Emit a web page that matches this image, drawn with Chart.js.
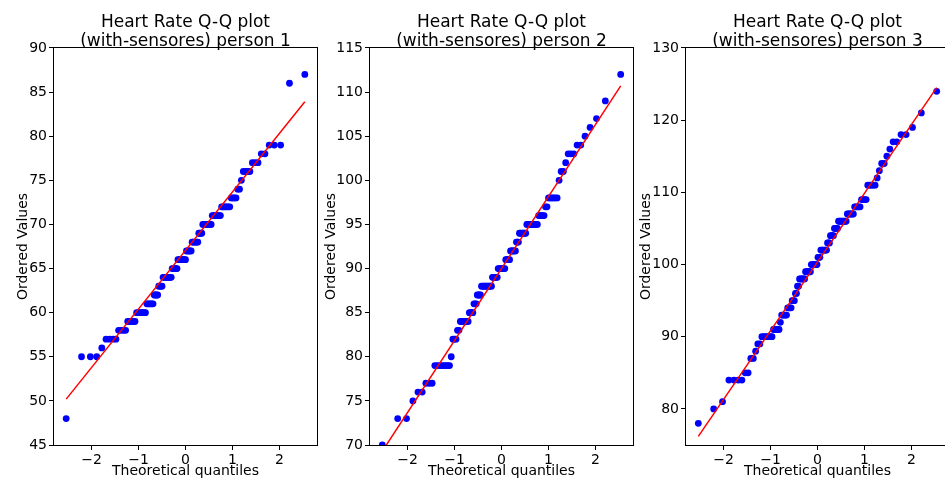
<!DOCTYPE html>
<html>
<head>
<meta charset="utf-8">
<script src="https://cdn.jsdelivr.net/npm/chart.js@4.4.1/dist/chart.umd.min.js"></script>
<style>
html,body{margin:0;padding:0;background:#fff;width:945px;height:480px;overflow:hidden;position:relative}
canvas{position:absolute;top:0}
</style>
</head>
<body>
<canvas id="c1" width="321" height="480" style="left:0px"></canvas>
<canvas id="c2" width="321" height="480" style="left:316px"></canvas>
<canvas id="c3" width="321" height="480" style="left:632px"></canvas>
<script>
// ---- Data ----
// Ordered (sorted) heart-rate values, stored as distinct value + how many times it occurs
const p1Values = [48,55,56,57,58,59,60,61,62,63,64,65,66,67,68,69,70,71,72,73,74,75,76,77,78,79,86,87];
const p1Counts = [ 1, 3, 1, 4, 4, 5, 7, 6, 4, 4, 9, 6, 9, 6, 7, 4, 9, 8, 7, 4, 2, 1, 4, 3, 2, 3, 1, 1];

const p2Values = [70,73,75,76,77,79,80,82,83,84,85,86,87,88,89,90,91,92,93,94,95,96,97,98,100,101,102,103,104,105,106,107,109,112];
const p2Counts = [ 1, 2, 1, 2, 3, 8, 1, 3, 2, 7, 4, 3, 4,11, 6, 8, 5, 6, 3, 7,10, 5, 2, 6,  1,  2,  1,  3,  2,  1,  1,  1,  1,  1];

const p3Values = [78,80,81,84,85,87,88,89,90,91,92,93,94,95,96,97,98,99,100,101,102,103,104,105,106,107,108,109,111,112,113,114,115,116,117,118,119,121,124];
const p3Counts = [ 1, 1, 1, 4, 2, 2, 1, 2, 7, 5, 1, 5, 4, 3, 2, 2, 6, 6,  7,  3,  7,  3,  4,  4,  8,  6,  5,  4,  5,  1,  1,  2,  1,  1,  2,  2,  1,  1,  1];

// Fitted reference line: y at the first and at the last theoretical quantile
const p1Fit = [50.2, 83.9];
const p2Fit = [69.3, 110.7];
const p3Fit = [76.2, 124.5];

// Titles and tick labels
const titles = [
  ['Heart Rate Q-Q plot', '(with-sensores) person 1'],
  ['Heart Rate Q-Q plot', '(with-sensores) person 2'],
  ['Heart Rate Q-Q plot', '(with-sensores) person 3']
];
const xTicks = [-2, -1, 0, 1, 2];
const p1YTicks = [45, 50, 55, 60, 65, 70, 75, 80, 85, 90];
const p2YTicks = [70, 75, 80, 85, 90, 95, 100, 105, 110, 115];
const p3YTicks = [80, 90, 100, 110, 120, 130];
const xLabel = 'Theoretical quantiles';
const yLabel = 'Ordered Values';

// ---- helpers ----
const FONT = "'DejaVu Sans', sans-serif";

// inverse of the standard normal CDF (Acklam)
function normPpf(p){
  const a=[-3.969683028665376e+01,2.209460984245205e+02,-2.759285104469687e+02,1.383577518672690e+02,-3.066479806614716e+01,2.506628277459239e+00];
  const b=[-5.447609879822406e+01,1.615858368580409e+02,-1.556989798598866e+02,6.680131188771972e+01,-1.328068155288572e+01];
  const c=[-7.784894002430293e-03,-3.223964580411365e-01,-2.400758277161838e+00,-2.549732539343734e+00,4.374664141464968e+00,2.938163982698783e+00];
  const d=[7.784695709041462e-03,3.224671290700398e-01,2.445134137142996e+00,3.754408661907416e+00];
  const pl=0.02425, ph=1-pl;
  let q,r;
  if(p<pl){q=Math.sqrt(-2*Math.log(p));return (((((c[0]*q+c[1])*q+c[2])*q+c[3])*q+c[4])*q+c[5])/((((d[0]*q+d[1])*q+d[2])*q+d[3])*q+1);}
  if(p<=ph){q=p-0.5;r=q*q;return (((((a[0]*r+a[1])*r+a[2])*r+a[3])*r+a[4])*r+a[5])*q/(((((b[0]*r+b[1])*r+b[2])*r+b[3])*r+b[4])*r+1);}
  q=Math.sqrt(-2*Math.log(1-p));return -(((((c[0]*q+c[1])*q+c[2])*q+c[3])*q+c[4])*q+c[5])/((((d[0]*q+d[1])*q+d[2])*q+d[3])*q+1);
}
// theoretical quantile of each rank in a Q-Q (probability) plot (Filliben order-statistic medians)
function rankQuantile(i, n){
  const last = Math.pow(0.5, 1/n);
  let m;
  if(i===0) m = 1-last; else if(i===n-1) m = last; else m = (i+1-0.3175)/(n+0.365);
  return normPpf(m);
}
const fmt = v => String(v).replace('-', '\u2212');

const frame = {
  id:'frame',
  afterDraw(chart){
    const {ctx, chartArea:a} = chart;
    ctx.save();
    ctx.strokeStyle = '#000';
    ctx.lineWidth = 1;
    ctx.strokeRect(Math.round(a.left)-0.5, Math.round(a.top)-0.5, Math.round(a.right-a.left)+1, Math.round(a.bottom-a.top)+1);
    ctx.restore();
  }
};

function makePanel(id, title, values, counts, fit, yMin, yMax, yTicks, yTitlePad){
  const ordered = [];
  values.forEach((v,i)=>{ for(let k=0;k<counts[i];k++) ordered.push(v); });
  const n = ordered.length;
  const pts = ordered.map((v,i)=>({x: rankQuantile(i,n), y: v}));
  const line = [{x: pts[0].x, y: fit[0]}, {x: pts[n-1].x, y: fit[1]}];
  new Chart(document.getElementById(id), {
    type: 'scatter',
    data: {datasets: [
      {type:'line', data: line, borderColor:'#ff0000', borderWidth:1.5, pointRadius:0, fill:false, tension:0, clip:0},
      {data: pts, pointRadius:3.4, pointBackgroundColor:'#0000ff', pointBorderWidth:0, borderWidth:0, clip:0}
    ]},
    options: {
      responsive:false, animation:false, devicePixelRatio:1,
      layout:{padding:{left:0, right:4, top:0, bottom:0}},
      plugins:{
        legend:{display:false}, tooltip:{enabled:false},
        title:{display:true, text:title, fullSize:false, color:'#000',
               font:{family:FONT, size:17, weight:'normal', lineHeight:1.12}, padding:{top:13.5, bottom:-3.6}}
      },
      scales:{
        x:{type:'linear', min:-2.8, max:2.8,
           afterBuildTicks:s=>{ s.ticks = xTicks.map(v=>({value:v})); },
           afterFit:s=>{ s.height = 35; },
           ticks:{color:'#000', font:{family:FONT, size:14}, padding:2, autoSkip:false, maxRotation:0, callback:v=>fmt(v)},
           grid:{drawOnChartArea:false, drawTicks:true, tickLength:5, tickColor:'#000', tickWidth:1},
           border:{display:false},
           title:{display:true, text:xLabel, color:'#000', font:{family:FONT, size:14}, padding:{top:0, bottom:0}}},
        y:{type:'linear', min:yMin, max:yMax,
           afterBuildTicks:s=>{ s.ticks = yTicks.map(v=>({value:v})); },
           afterFit:s=>{ s.width = 54; },
           ticks:{color:'#000', font:{family:FONT, size:14}, padding:2, autoSkip:false, callback:v=>fmt(v)},
           grid:{drawOnChartArea:false, drawTicks:true, tickLength:5, tickColor:'#000', tickWidth:1},
           border:{display:false},
           title:{display:true, text:yLabel, color:'#000', font:{family:FONT, size:14}, padding:{top:yTitlePad, bottom:0}}}
      }
    },
    plugins:[frame]
  });
}

makePanel('c1', titles[0], p1Values, p1Counts, p1Fit, 45, 90, p1YTicks, 14.6);
makePanel('c2', titles[1], p2Values, p2Counts, p2Fit, 70, 115, p2YTicks, 6.6);
makePanel('c3', titles[2], p3Values, p3Counts, p3Fit, 75, 130, p3YTicks, 5.6);
</script>
</body>
</html>
